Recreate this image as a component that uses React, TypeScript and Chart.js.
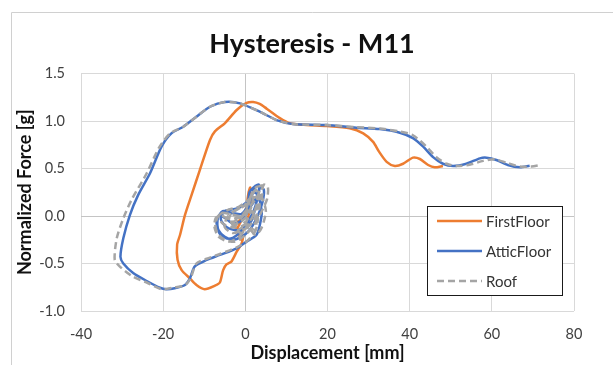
import React, { useEffect, useRef } from "react";
import { Chart, registerables } from "chart.js";

Chart.register(...registerables);

const chartTitle = "Hysteresis - M11";
const xAxisTitle = "Displacement [mm]";
const yAxisTitle = "Normalized Force [g]";
const seriesNames = ["FirstFloor", "AtticFloor", "Roof"];
const seriesColors = ["#ED7D31", "#4472C4", "#A5A5A5"];

const firstFloorDisp = [0, 0.8, 1.2, 0.8, 0, -1.5, -2.5, -1.5, 0, 1, 1.5, 0.5, -1, -2, -1, -0.5,
  -0.9, -2.1, -3.4, -4.6, -5.4, -6.2, -7.4, -9.9, -11.9, -13.5, -15.5, -16.5, -16.6, -15.9, -14.7,
  -13.1, -11.1, -8.6, -7.4, -5, -2.1, 0.3, 1.9, 3.5, 5.2, 8.4, 10.8, 14.9, 19.8, 25.4, 28.7, 31.1,
  32.5, 34.4, 36.4, 38.4, 40.8, 42.5, 44.5, 46.1, 48.1];
const firstFloorForce = [0, 0.15, 0.3, 0.25, 0.05, -0.05, -0.1, -0.18, -0.12, 0.05, 0.2, 0.1, -0.05, -0.15, -0.25, -0.2,
  -0.29, -0.375, -0.48, -0.51, -0.57, -0.7, -0.733, -0.77, -0.726, -0.656, -0.57, -0.46, -0.3, -0.2, 0.01,
  0.22, 0.48, 0.8, 0.89, 0.976, 1.116, 1.19, 1.2, 1.18, 1.13, 1.03, 0.976, 0.958, 0.947, 0.923, 0.87, 0.78,
  0.68, 0.57, 0.526, 0.55, 0.614, 0.6, 0.537, 0.512, 0.526];

const atticDisp = [0, 1, 2.5, 3.5, 2.5, 1.5, 0.5, -1, -3, -5, -6.5, -6.8, -6, -4, -2, 0, 2, 3, 3.3, 2, 1, 0.5,
  -1, -3, -5.5, -7, -6.5, -5, -3, -1, 1, 3, 4.2, 4.5, 3.5, 2.5, 1.5, 0, -2, -4.5, -6, -5, -2, 0.5, 2, 3, 4,
  3.5, 2.7,
  0.3, -2.1, -6.2, -9.4, -12.3, -13.5, -14.7, -17.2, -19.2, -20.8, -24, -27.3, -29.7, -30.4, -29.7, -28.1,
  -26.1, -23.2, -20.4, -18, -15.1, -11.9, -8.6, -5, -1.3, 3.5, 7.6, 11.6, 19.8, 27, 32.7, 37.6, 40.8, 43.3,
  45.7, 48.1, 50.6, 53.8, 57.1, 58.7, 61.1, 63.9, 66.8, 69.2];
const atticForce = [0, 0.08, 0.18, 0.3, 0.32, 0.2, 0.05, -0.05, -0.08, -0.02, 0, -0.1, -0.2, -0.24, -0.2, -0.1,
  0.05, 0.2, 0.33, 0.3, 0.25, 0.1, 0.02, 0.03, 0.05, -0.05, -0.15, -0.22, -0.25, -0.22, -0.15, 0, 0.15, 0.28,
  0.3, 0.1, -0.05, -0.12, -0.15, -0.12, -0.03, 0.05, 0.08, 0.15, 0.25, 0.22, 0.05, -0.1, -0.2,
  -0.27, -0.34, -0.41, -0.463, -0.53, -0.656, -0.726, -0.76, -0.77, -0.755, -0.684, -0.6, -0.5, -0.43, -0.235,
  0.01, 0.22, 0.45, 0.73, 0.87, 0.94, 1.045, 1.15, 1.2, 1.186, 1.098, 1.01, 0.968, 0.958, 0.93, 0.915, 0.877,
  0.82, 0.73, 0.62, 0.55, 0.526, 0.55, 0.607, 0.614, 0.59, 0.537, 0.512, 0.53];

const roofDisp = [0, 1.2, 2.8, 3.8, 2.5, 1, 0, -1.5, -3.5, -5.5, -7.2, -7.5, -6.5, -4, -1.5, 0.5, 2.5, 4, 4.2,
  3, 1.5, 0.5, -1.2, -3.5, -6, -7.3, -6.8, -5, -2.5, 0, 2, 4, 5.3, 5.5, 4.5, 3, 1.5, -0.5, -3, -5.5, -6.5,
  -4.5, -1.5, 1, 2.5, 4, 5, 4, 2.5, 0.5, -1.5, -3.5, -2, 0, 1.5, 3, 2.5,
  1, -1, -3, -5, -4.5, -2.5, -0.5, 1, 2, 1.5, 0, -2, -4, -3.5, -1.5, 0.5, 2.5, 3.5, 2, 0.5, -1, -2.5, -1,
  1, 2.5, 2.5,
  0.3, -2.1, -6.2, -9.4, -11.9, -13.3, -14.7, -17.2, -20.4, -24, -27.3, -30.6, -31.8, -31.3, -29.7, -27.7,
  -24, -21, -18.3, -15.1, -11.9, -8.6, -5, -1.3, 3.5, 7.6, 11.6, 19.8, 27, 32.7, 37.6, 40.8, 44.1, 46.5, 49,
  51.4, 54.6, 57.9, 60.7, 63.6, 66.8, 69.6, 72];
const roofForce = [0, 0.1, 0.2, 0.31, 0.3, 0.18, 0.05, -0.03, -0.06, 0, -0.02, -0.12, -0.22, -0.27, -0.22, -0.1,
  0.05, 0.2, 0.32, 0.3, 0.22, 0.08, 0, 0.02, 0.03, -0.08, -0.18, -0.25, -0.27, -0.2, -0.1, 0.05, 0.18, 0.3,
  0.33, 0.15, -0.03, -0.1, -0.12, -0.08, 0, 0.06, 0.1, 0.18, 0.27, 0.2, 0.05, -0.12, -0.2, -0.1, -0.02, -0.05,
  -0.15, -0.08, 0.05, 0.0, -0.15,
  -0.12, -0.15, -0.18, -0.12, -0.02, 0.06, 0.1, 0.18, 0.24, 0.1, -0.02, -0.08, -0.06, 0.02, 0.08, 0.12, 0.2,
  0.1, -0.05, -0.12, -0.18, -0.12, -0.02, 0.05, 0.0, -0.15,
  -0.27, -0.33, -0.4, -0.45, -0.5, -0.65, -0.73, -0.75, -0.77, -0.7, -0.64, -0.53, -0.46, -0.235, -0.025, 0.17,
  0.45, 0.72, 0.87, 0.94, 1.045, 1.15, 1.2, 1.186, 1.098, 1.01, 0.968, 0.958, 0.935, 0.92, 0.89, 0.85, 0.73,
  0.62, 0.55, 0.526, 0.54, 0.58, 0.597, 0.56, 0.52, 0.52, 0.537];

const xMin = -40, xMax = 80, xStep = 20;
const yMin = -1, yMax = 1.5, yStep = 0.5;

const FONT = "Lato, 'Open Sans', sans-serif";

function toPoints(xs: number[], ys: number[]) {
  return xs.map((x, i) => ({ x, y: ys[i] }));
}

const frameAndLegend = {
  id: "frameAndLegend",
  afterLayout(chart: any) {
    const tb = chart.titleBlock;
    if (tb) {
      tb.left = 11;
      tb.right = 613;
      tb.width = 602;
    }
  },
  beforeDraw(chart: any) {
    const ctx = chart.ctx;
    ctx.save();
    ctx.strokeStyle = "#d0d0d0";
    ctx.lineWidth = 1;
    ctx.beginPath();
    ctx.moveTo(11.5, 365);
    ctx.lineTo(11.5, 12.5);
    ctx.lineTo(613, 12.5);
    ctx.stroke();
    ctx.restore();
  },
  afterDraw(chart: any) {
    const ctx = chart.ctx;
    const bx = 427.5, by = 206.5, bw = 135, bh = 89;
    ctx.save();
    ctx.fillStyle = "#ffffff";
    ctx.fillRect(bx, by, bw, bh);
    ctx.strokeStyle = "#1a1a1a";
    ctx.lineWidth = 1;
    ctx.strokeRect(bx, by, bw, bh);
    chart.data.datasets.forEach((ds: any, i: number) => {
      const y = 221 + i * 30;
      ctx.strokeStyle = ds.borderColor;
      ctx.lineWidth = ds.borderWidth;
      ctx.setLineDash(ds.borderDash || []);
      ctx.beginPath();
      ctx.moveTo(437, y);
      ctx.lineTo(482, y);
      ctx.stroke();
      ctx.setLineDash([]);
      ctx.fillStyle = "#333333";
      ctx.font = `15px ${FONT}`;
      ctx.textBaseline = "middle";
      ctx.textAlign = "left";
      ctx.fillText(ds.label, 486, y + 1);
    });
    ctx.restore();
  },
};

export default function App() {
  const ref = useRef<HTMLCanvasElement | null>(null);
  useEffect(() => {
    if (!ref.current) return;
    const gridColor = (c: any) => (c.tick && c.tick.value === 0 ? "#c4c4c4" : "#d9d9d9");
    const chart = new Chart(ref.current, {
      type: "scatter",
      data: {
        datasets: [
          { label: seriesNames[0], data: toPoints(firstFloorDisp, firstFloorForce), borderColor: seriesColors[0], order: 3 },
          { label: seriesNames[1], data: toPoints(atticDisp, atticForce), borderColor: seriesColors[1], order: 2 },
          { label: seriesNames[2], data: toPoints(roofDisp, roofForce), borderColor: seriesColors[2], borderDash: [7, 4], order: 1 },
        ].map((d: any) => ({
          ...d,
          showLine: true,
          borderWidth: 2.5,
          pointRadius: 0,
          pointHoverRadius: 0,
          tension: 0.25,
          fill: false,
          backgroundColor: d.borderColor,
        })),
      },
      options: {
        responsive: false,
        animation: false,
        layout: { padding: { top: 0, left: 0, right: 39, bottom: 0 } },
        plugins: {
          legend: { display: false },
          tooltip: { enabled: false },
          title: {
            display: true,
            text: chartTitle,
            color: "#111111",
            font: { family: FONT, size: 27, weight: "bold", lineHeight: 1.2 },
            padding: { top: 28.3, bottom: 12.8 },
          },
        },
        scales: {
          x: {
            type: "linear",
            min: xMin,
            max: xMax,
            afterFit: (s: any) => { s.height = 54; },
            ticks: { stepSize: xStep, color: "#404040", font: { family: FONT, size: 14.5 }, padding: 15, maxRotation: 0 },
            grid: { color: gridColor, drawTicks: false, lineWidth: 1 },
            border: { display: false },
            title: {
              display: true,
              text: xAxisTitle,
              color: "#111111",
              font: { family: FONT, size: 18, weight: "bold", lineHeight: 1.2 },
              padding: { top: 0, bottom: 1 },
            },
          },
          y: {
            type: "linear",
            min: yMin,
            max: yMax,
            afterFit: (s: any) => { s.width = 81; },
            ticks: {
              stepSize: yStep,
              color: "#404040",
              font: { family: FONT, size: 14.5 },
              padding: 16,
              callback: (v: any) => Number(v).toFixed(1),
            },
            grid: { color: gridColor, drawTicks: false, lineWidth: 1 },
            border: { display: false },
            title: {
              display: true,
              text: yAxisTitle,
              color: "#111111",
              font: { family: FONT, size: 18, weight: "bold", lineHeight: 1.2 },
              padding: { top: 14, bottom: 0 },
            },
          },
        },
      },
      plugins: [frameAndLegend],
    } as any);
    return () => chart.destroy();
  }, []);
  return (
    <div style={{ position: "fixed", left: 0, top: 0, width: 613, height: 365, background: "#fff" }}>
      <canvas ref={ref} width={613} height={365} style={{ display: "block" }} />
    </div>
  );
}
